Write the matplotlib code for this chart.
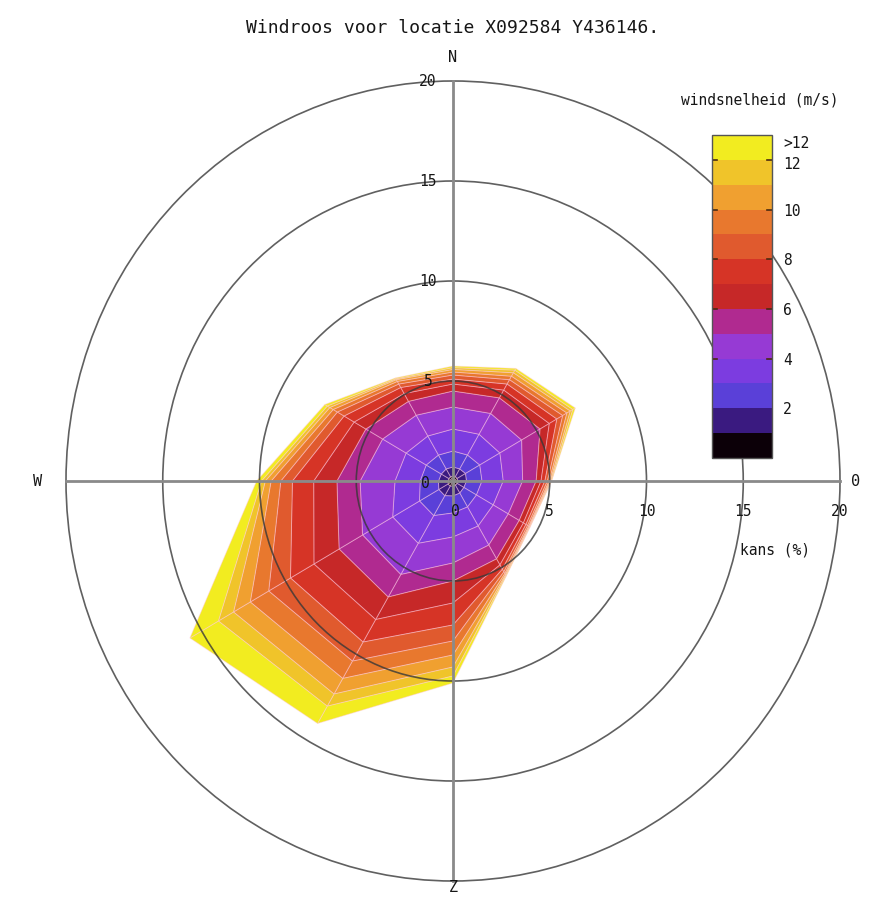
import numpy as np
import matplotlib
matplotlib.use("Agg")
import matplotlib.pyplot as plt
from matplotlib.colors import ListedColormap, BoundaryNorm
from matplotlib.patches import Polygon, Ellipse
import matplotlib.cm as cm

# windrichtingen (graden vanaf noord, met de klok mee)
richtingen = [0, 30, 60, 90, 120, 150, 180, 210, 240, 270, 300, 330]

# kans (%) per snelheidsklasse: 0-1, 1-2, ..., 11-12, >12 m/s
kans_000 = [0.25, 0.45, 0.80, 1.10, 1.10, 0.80, 0.35, 0.25, 0.20, 0.15, 0.13, 0.09, 0.08]
kans_030 = [0.25, 0.45, 0.80, 1.20, 1.20, 0.90, 0.45, 0.35, 0.25, 0.20, 0.20, 0.15, 0.10]
kans_060 = [0.25, 0.50, 0.85, 1.20, 1.30, 1.10, 0.55, 0.45, 0.35, 0.25, 0.20, 0.15, 0.15]
kans_090 = [0.25, 0.45, 0.80, 1.10, 1.00, 0.70, 0.25, 0.20, 0.13, 0.09, 0.06, 0.05, 0.02]
kans_120 = [0.25, 0.40, 0.75, 1.00, 0.90, 0.65, 0.25, 0.15, 0.10, 0.07, 0.04, 0.03, 0.01]
kans_150 = [0.25, 0.45, 0.80, 1.10, 1.10, 0.80, 0.35, 0.25, 0.15, 0.10, 0.07, 0.05, 0.03]
kans_180 = [0.25, 0.50, 0.85, 1.20, 1.30, 0.90, 1.10, 1.10, 0.80, 0.70, 0.60, 0.45, 0.35]
kans_210 = [0.30, 0.55, 1.15, 1.60, 1.80, 1.30, 1.30, 1.30, 1.10, 1.00, 0.90, 0.70, 1.00]
kans_240 = [0.30, 0.55, 1.15, 1.60, 1.80, 1.40, 1.50, 1.40, 1.30, 1.10, 1.00, 0.90, 1.70]
kans_270 = [0.25, 0.50, 0.95, 1.30, 1.80, 1.20, 1.20, 1.10, 0.60, 0.50, 0.30, 0.20, 0.25]
kans_300 = [0.25, 0.45, 0.90, 1.20, 1.40, 1.00, 0.70, 0.60, 0.40, 0.25, 0.20, 0.15, 0.15]
kans_330 = [0.25, 0.45, 0.80, 1.10, 1.20, 0.80, 0.45, 0.35, 0.20, 0.15, 0.10, 0.05, 0.05]

kleuren = ['#0c0008', '#3a1a80', '#5a40d8', '#7c3ce0', '#963ad4', '#b02a90',
           '#c62828', '#d63426', '#e05a2e', '#e8782e', '#f0a030', '#f0c42a', '#f2ec20']
klassegrenzen = list(range(0, 14))
cbar_ticks = [2, 4, 6, 8, 10, 11.88, 12.72]
cbar_labels = ['2', '4', '6', '8', '10', '12', '>12']
ringen = [5, 10, 15, 20]

font = 'DejaVu Sans Mono'
plt.rcParams['font.family'] = [font, 'DejaVu Sans']
tekst = '#161616'

fig = plt.figure(figsize=(8.91, 9.24), dpi=100)
ax = fig.add_axes([0, 0, 1, 1])
# data -> pixels: 19.35 px per eenheid horizontaal, 20 px verticaal, centrum op (453, 481)
ax.set_xlim(-453 / 19.35, (891 - 453) / 19.35)
ax.set_ylim(-(924 - 481) / 20, 481 / 20)
ax.axis('off')

sectoren = [kans_000, kans_030, kans_060, kans_090, kans_120, kans_150,
            kans_180, kans_210, kans_240, kans_270, kans_300, kans_330]
cum = np.array([np.cumsum(s) for s in sectoren])  # (12, 13)
theta = np.radians(richtingen)
n = len(richtingen)

for k in range(cum.shape[1]):
    buiten = cum[:, k]
    binnen = cum[:, k - 1] if k > 0 else np.zeros(n)
    for i in range(n):
        j = (i + 1) % n
        pts = [(binnen[i] * np.sin(theta[i]), binnen[i] * np.cos(theta[i])),
               (binnen[j] * np.sin(theta[j]), binnen[j] * np.cos(theta[j])),
               (buiten[j] * np.sin(theta[j]), buiten[j] * np.cos(theta[j])),
               (buiten[i] * np.sin(theta[i]), buiten[i] * np.cos(theta[i]))]
        ax.add_patch(Polygon(pts, closed=True, facecolor=kleuren[k],
                             edgecolor=(1, 0.78, 0.88, 0.45), lw=0.7, zorder=1))

# cirkels en assen
for r in ringen:
    ax.add_patch(Ellipse((0, 0), 2 * r, 2 * r, fill=False, edgecolor='#383838',
                         lw=1.2, alpha=0.8, zorder=3))
ax.plot([-20, 20], [0, 0], color='#8a8a8a', lw=2, zorder=3)
ax.plot([0, 0], [-20, 20], color='#8a8a8a', lw=2, zorder=3)

# as-labels
for r in ringen:
    ax.text(-1.3, r, str(r), ha='center', va='center', fontsize=10.5, color=tekst, zorder=5)
    ax.text(r, -1.55, str(r), ha='center', va='center', fontsize=10.5, color=tekst, zorder=5)
ax.text(-1.45, -0.1, '0', ha='center', va='center', fontsize=10.5, color=tekst, zorder=5)
ax.text(0.1, -1.55, '0', ha='center', va='center', fontsize=10.5, color=tekst, zorder=5)

ax.text(0, 21.15, 'N', ha='center', va='center', fontsize=11, color=tekst)
ax.text(-21.45, 0, 'W', ha='center', va='center', fontsize=11, color=tekst)
ax.text(0, -20.35, 'Z', ha='center', va='center', fontsize=11, color=tekst)
ax.text(20.8, 0, '0', ha='center', va='center', fontsize=11, color=tekst)
ax.text(16.65, -3.45, 'kans (%)', ha='center', va='center', fontsize=10.5, color=tekst)

fig.text(453 / 891, 1 - 28 / 924, 'Windroos voor locatie X092584 Y436146.',
         ha='center', va='center', fontsize=13, color=tekst)

# kleurenbalk
cmap = ListedColormap(kleuren)
norm = BoundaryNorm(klassegrenzen, cmap.N)
cax = fig.add_axes([712 / 891, (924 - 458) / 924, 60 / 891, 323 / 924])
cb = fig.colorbar(cm.ScalarMappable(norm=norm, cmap=cmap), cax=cax,
                  boundaries=klassegrenzen, ticks=cbar_ticks)
cb.set_ticklabels(cbar_labels)
cb.minorticks_off()
cb.outline.set_edgecolor('#555555')
cb.outline.set_linewidth(1)
cax.tick_params(direction='in', length=0, labelsize=10.5,
                labelcolor=tekst, right=True, left=False, pad=8)
# korte streepjes binnen de balk bij de gelabelde grenzen
for g in [4, 6, 8, 10, 12]:
    cax.plot([0, 0.08], [g, g], transform=cax.get_yaxis_transform(), color='#4a2a10', lw=1.2)
    cax.plot([0.92, 1], [g, g], transform=cax.get_yaxis_transform(), color='#4a2a10', lw=1.2)
fig.text(760 / 891, 1 - 100 / 924, 'windsnelheid (m/s)', ha='center', va='center',
         fontsize=10.5, color=tekst)

fig.savefig('out.png', dpi=100)
